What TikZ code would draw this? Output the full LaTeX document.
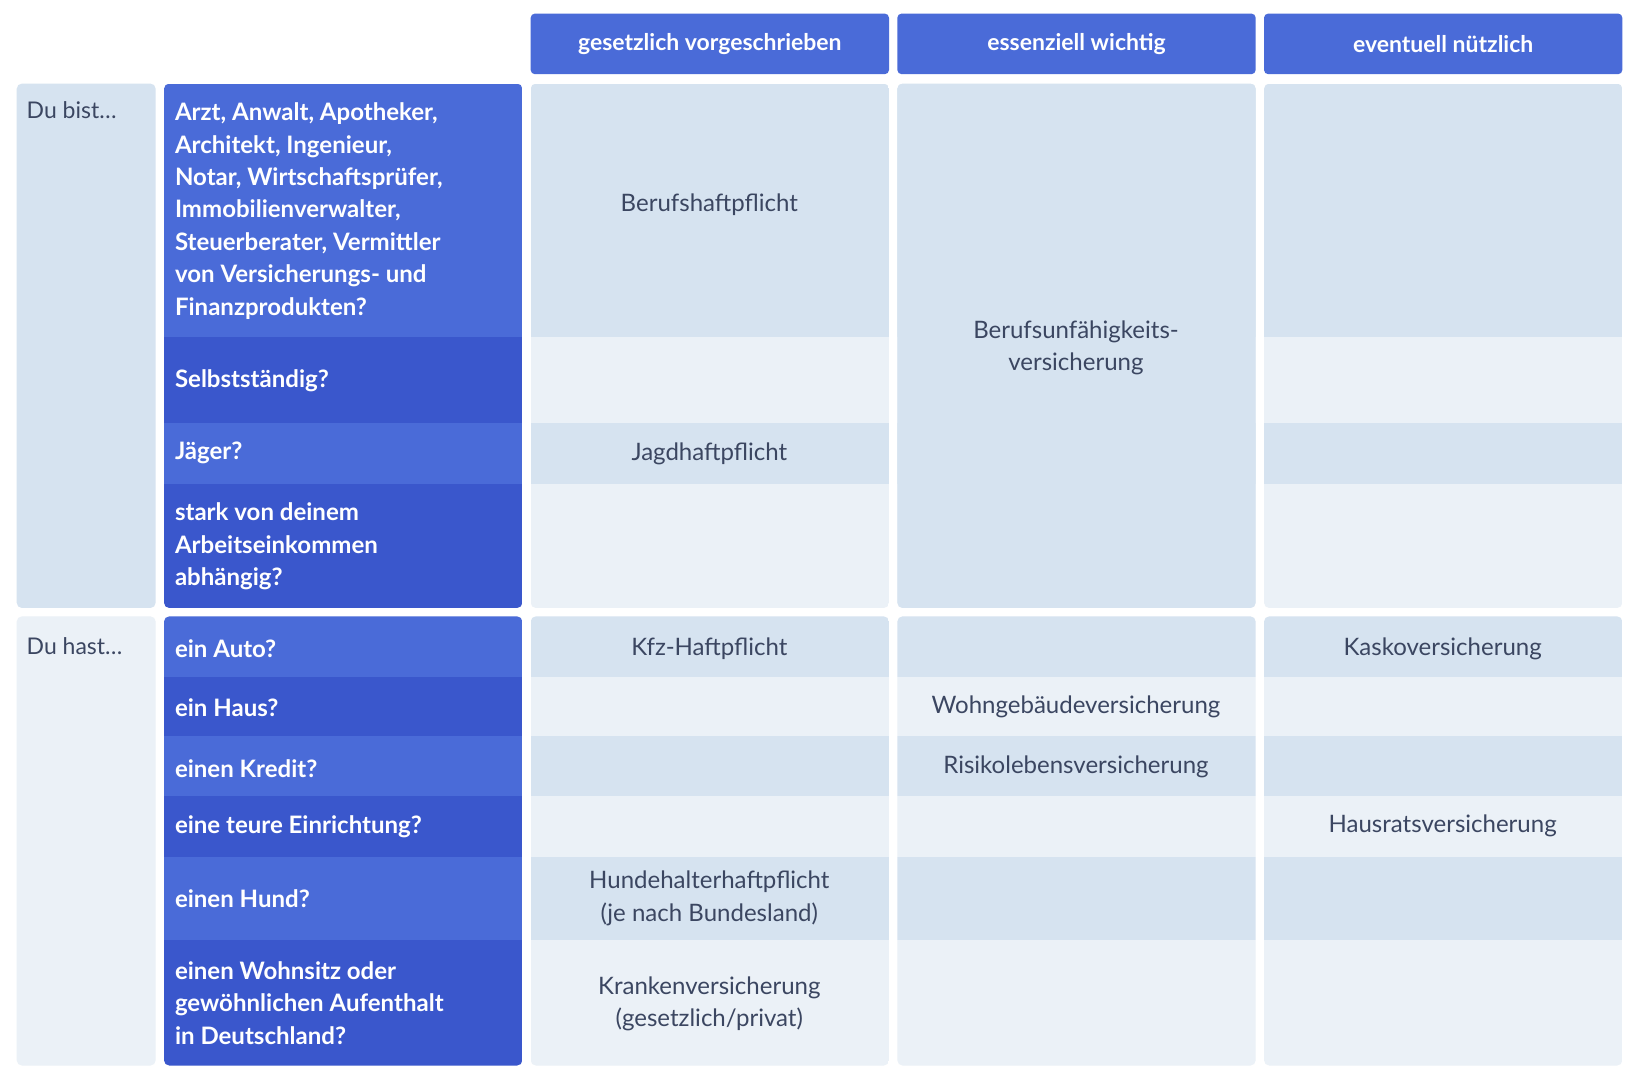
\documentclass[tikz,border=0pt]{standalone}
\usepackage{fontspec}
\setmainfont{Lato}
\definecolor{hdr}{HTML}{4A6BD8}
\definecolor{lblA}{HTML}{4A6BD8}
\definecolor{lblB}{HTML}{3A57CC}
\definecolor{cA}{HTML}{D6E3F0}
\definecolor{cB}{HTML}{EBF1F7}
\definecolor{txt}{HTML}{3B4661}
\newcommand\mygroup[3]{%
  \begin{scope}
    \clip[rounded corners=5] (157,#1) rectangle (500,#2);
    \foreach \t/\b/\l/\c in {#3} {\fill[\l] (157,\t) rectangle (500,\b);}
  \end{scope}
  \foreach \a/\bb in {508/851,859/1202,1210/1553}{
  \begin{scope}
    \clip[rounded corners=5] (\a,#1) rectangle (\bb,#2);
    \foreach \t/\b/\l/\c in {#3} {\fill[\c] (\a,\t) rectangle (\bb,\b);}
  \end{scope}}}
\begin{document}
\begin{tikzpicture}[x=1pt,y=-1pt,
  lbl/.style={anchor=west,text=white,font=\fontsize{23}{31}\selectfont\bfseries,align=left},
  hd/.style={text=white,font=\fontsize{22}{28}\selectfont\bfseries},
  ct/.style={text=txt,font=\fontsize{23}{31}\selectfont,align=center},
  side/.style={anchor=north west,text=txt,font=\fontsize{22}{28}\selectfont}]
\useasboundingbox (0,0) rectangle (1568,1034);
\fill[white] (0,0) rectangle (1568,1034);
% headers
\foreach \a/\b/\t [count=\i] in {508/851/gesetzlich vorgeschrieben,859/1202/essenziell wichtig,1210/1553/eventuell nützlich}{
  \fill[hdr,rounded corners=4] (\a,13) rectangle (\b,71);
  \node[hd] (h\i) at ({(\a+\b)/2},42) {\t};}
% side column
\fill[cA,rounded corners=5] (16,80) rectangle (149,582);
\fill[cB,rounded corners=5] (16,590) rectangle (149,1020);
\node[side] (s1) at (22,94) {Du bist…};
\node[side] (s2) at (22,607) {Du hast…};
\mygroup{80}{582}{80/323/lblA/cA,323/405/lblB/cB,405/463/lblA/cA,463/582/lblB/cB}
\mygroup{590}{1020}{590/648/lblA/cA,648/705/lblB/cB,705/762/lblA/cA,762/820/lblB/cB,820/900/lblA/cA,900/1020/lblB/cB}
\fill[cA,rounded corners=5] (859,80) rectangle (1202,582);
% labels
\node[lbl] (l1) at (164,202) {Arzt, Anwalt, Apotheker,\\Architekt, Ingenieur,\\Notar, Wirtschaftsprüfer,\\Immobilienverwalter,\\Steuerberater, Vermittler\\von Versicherungs- und\\Finanzprodukten?};
\node[lbl] (l2) at (164,364) {Selbstständig?};
\node[lbl] (l3) at (164,434) {Jäger?};
\node[lbl] (l4) at (164,523) {stark von deinem\\Arbeitseinkommen\\abhängig?};
\node[lbl] (l5) at (164,621) {ein Auto?};
\node[lbl] (l6) at (164,677) {ein Haus?};
\node[lbl] (l7) at (164,736) {einen Kredit?};
\node[lbl] (l8) at (164,791) {eine teure Einrichtung?};
\node[lbl] (l9) at (164,860) {einen Hund?};
\node[lbl] (l10) at (164,960) {einen Wohnsitz oder\\gewöhnlichen Aufenthalt\\in Deutschland?};
% contents
\node[ct] (c1) at (679,196) {Berufshaftpflicht};
\node[ct] (c2) at (1030,333) {Berufsunfähigkeits-\\versicherung};
\node[ct] (c3) at (679,434) {Jagdhaftpflicht};
\node[ct] (c4) at (679,621) {Kfz-Haftpflicht};
\node[ct] (c5) at (1381,621) {Kaskoversicherung};
\node[ct] (c6) at (1030,677) {Wohngebäudeversicherung};
\node[ct] (c7) at (1030,734) {Risikolebensversicherung};
\node[ct] (c8) at (1381,791) {Hausratsversicherung};
\node[ct] (c9) at (679,860) {Hundehalterhaftpflicht\\(je nach Bundesland)};
\node[ct] (c10) at (679,961) {Krankenversicherung\\(gesetzlich/privat)};
\end{tikzpicture}
\end{document}
